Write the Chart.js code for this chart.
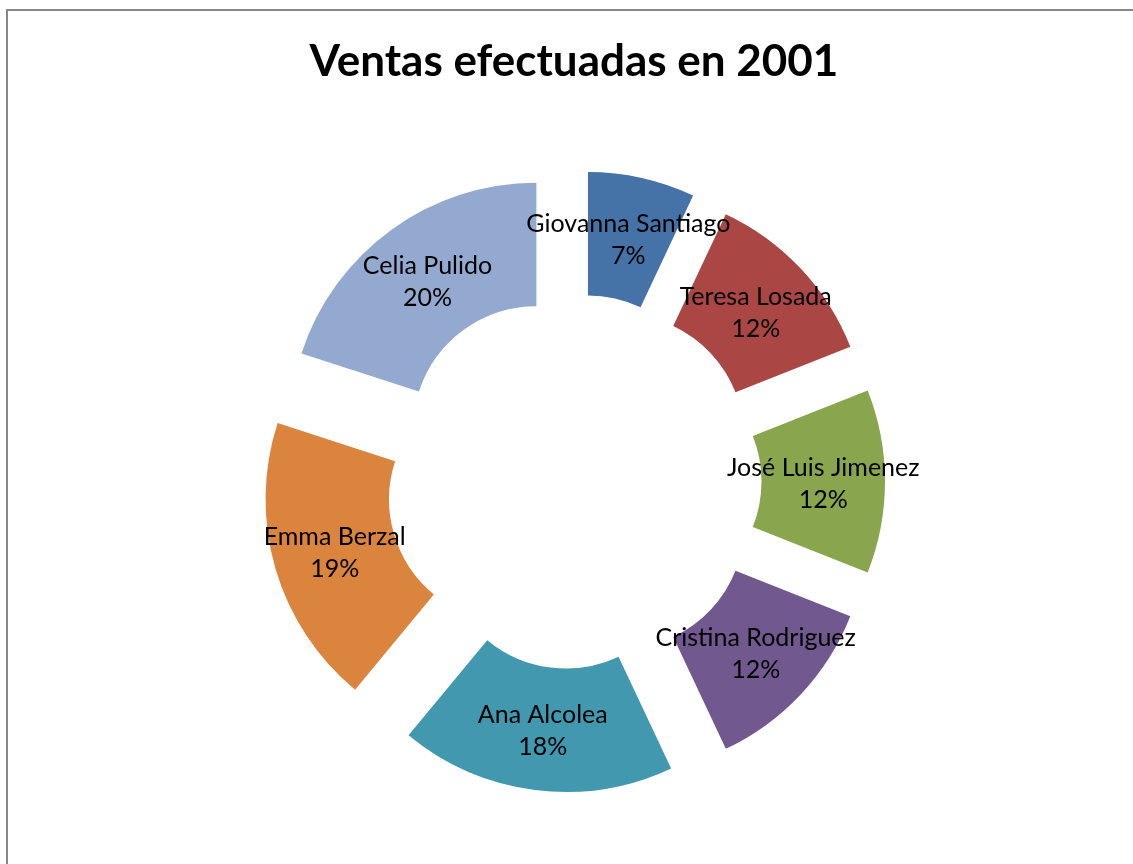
<!DOCTYPE html>
<html>
<head>
<meta charset="utf-8">
<script src="https://cdn.jsdelivr.net/npm/chart.js@4/dist/chart.umd.min.js"></script>
<style>
    html, body { margin: 0; padding: 0; background: #fff; overflow: hidden; }
    #wrap { position: relative; width: 1133px; height: 864px; overflow: hidden; }
    #chart { position: absolute; left: 0; top: 0; }
    #frame {
        position: absolute; left: 6px; top: 9px; width: 1200px; height: 1000px;
        border-left: 2px solid #878787; border-top: 2px solid #878787;
        pointer-events: none;
    }
</style>
</head>
<body>
<div id="wrap">
    <canvas id="chart" width="1133" height="900"></canvas>
    <div id="frame"></div>
</div>
<script>
const vendedores = ["Giovanna Santiago", "Teresa Losada", "José Luis Jimenez", "Cristina Rodriguez", "Ana Alcolea", "Emma Berzal", "Celia Pulido"];
const porcentajes = [7, 12, 12, 12, 18, 19, 20];
const colores = ["#4572A7", "#AA4643", "#89A54E", "#71588F", "#4198AF", "#DB843D", "#93A9CF"];

const EXPLODE = 64;
const labelFont = "25px Lato";

// draws each slice moved out along its middle angle (Excel "exploded" doughnut)
const explodePlugin = {
    id: "explode",
    beforeDatasetDraw(chart, args){
        const ctx = chart.ctx;
        args.meta.data.forEach(arc =>{
            const mid = (arc.startAngle + arc.endAngle) / 2;
            ctx.save();
            ctx.translate(Math.cos(mid) * EXPLODE, Math.sin(mid) * EXPLODE);
            arc.draw(ctx);
            ctx.restore();
        });
        return false;
    },
    afterDatasetsDraw(chart){
        const ctx = chart.ctx;
        const meta = chart.getDatasetMeta(0);
        const total = porcentajes.reduce((a, b) => a + b, 0);
        ctx.save();
        ctx.font = labelFont;
        ctx.fillStyle = "#000";
        ctx.textAlign = "center";
        ctx.textBaseline = "middle";
        meta.data.forEach((arc, i) =>{
            const mid = (arc.startAngle + arc.endAngle) / 2;
            const r = (arc.innerRadius + arc.outerRadius) / 2 + EXPLODE;
            const x = arc.x + Math.cos(mid) * r;
            const y = arc.y + Math.sin(mid) * r;
            ctx.fillText(vendedores[i], x, y - 14);
            ctx.fillText(Math.round(porcentajes[i] / total * 100) + "%", x, y + 18);
        });
        ctx.restore();
    }
};

new Chart(document.getElementById("chart"), {
    type: "doughnut",
    data: {
        labels: vendedores,
        datasets: [{
            data: porcentajes,
            backgroundColor: colores,
            borderWidth: 0
        }]
    },
    options: {
        responsive: false,
        animation: false,
        events: [],
        radius: 247,
        cutout: "50%",
        layout: {
            padding: {top: 0, left: 15, right: 0, bottom: 26}
        },
        plugins: {
            legend: {display: false},
            tooltip: {enabled: false},
            title: {
                display: true,
                text: "Ventas efectuadas en 2001",
                color: "#000",
                font: {family: "Lato", size: 44, weight: "bold", lineHeight: 1.25},
                padding: {top: 34, bottom: 0}
            }
        }
    },
    plugins: [explodePlugin]
});
</script>
</body>
</html>
